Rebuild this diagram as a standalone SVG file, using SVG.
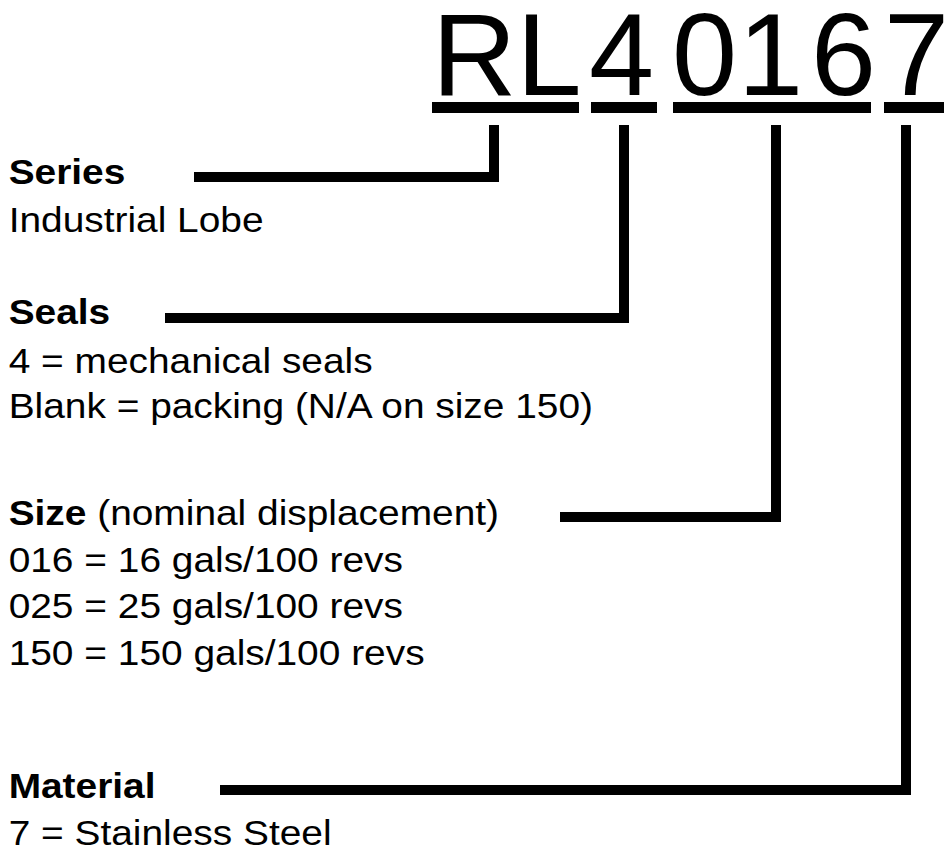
<svg xmlns="http://www.w3.org/2000/svg" width="944" height="850" viewBox="0 0 944 850">
<style>
.big{font-family:"Liberation Sans",Arial,sans-serif;font-size:117px;fill:#000}
.t{font-family:"Liberation Sans",Arial,sans-serif;font-size:36px;fill:#000}
.b{font-weight:bold}
.ln{fill:none;stroke:#000;stroke-width:10;stroke-linecap:butt;stroke-linejoin:miter}
.ul{fill:#000}
</style>
<rect width="944" height="850" fill="#fff"/>
<g id="code">
<text class="big" x="432 516.5 589 672 738 811 884" y="95">RL40167</text>
<rect class="ul" x="432" y="102" width="147" height="11"/>
<rect class="ul" x="591" y="102" width="66" height="11"/>
<rect class="ul" x="673" y="102" width="198" height="11"/>
<rect class="ul" x="884" y="102" width="60" height="11"/>
</g>
<g id="connectors">
<polyline class="ln" points="194,177 494,177 494,125"/>
<polyline class="ln" points="165,318 624,318 624,125"/>
<polyline class="ln" points="560,517 776,517 776,125"/>
<polyline class="ln" points="220,790 906,790 906,125"/>
</g>
<g transform="scale(1.08 1)">
<g id="series">
<text class="t b" x="8" y="184">Series</text>
<text class="t" x="8" y="232">Industrial Lobe</text>
</g>
<g id="seals">
<text class="t b" x="8" y="324">Seals</text>
<text class="t" x="8" y="373">4 = mechanical seals</text>
<text class="t" x="8" y="418">Blank = packing (N/A on size 150)</text>
</g>
<g id="size">
<text class="t" x="8" y="525"><tspan class="b">Size</tspan> (nominal displacement)</text>
<text class="t" x="8" y="572">016 = 16 gals/100 revs</text>
<text class="t" x="8" y="618">025 = 25 gals/100 revs</text>
<text class="t" x="8" y="665">150 = 150 gals/100 revs</text>
</g>
<g id="material">
<text class="t b" x="8" y="798">Material</text>
<text class="t" x="8" y="845">7 = Stainless Steel</text>
</g>
</g>
</svg>
